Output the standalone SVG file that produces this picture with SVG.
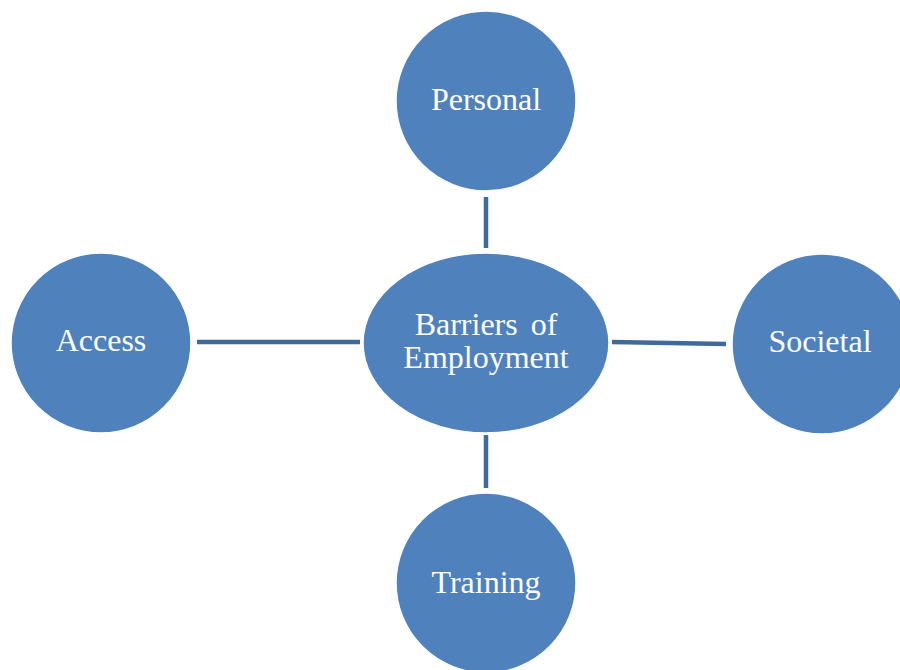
<svg xmlns="http://www.w3.org/2000/svg" width="900" height="670" viewBox="0 0 900 670">
<style>
.node{fill:#4f81bd;stroke:#ffffff;stroke-width:1.5}
.lbl{font-family:"Liberation Serif","Times New Roman",serif;font-size:32px;fill:#ffffff;text-anchor:middle}
.conn{stroke:#3f6a9b;stroke-width:4.5;fill:none}
</style>
<rect width="900" height="670" fill="#ffffff"/>
<g id="connectors">
<line class="conn" x1="486" y1="197" x2="486" y2="248"/>
<line class="conn" x1="486" y1="435" x2="486" y2="488"/>
<line class="conn" x1="197" y1="342" x2="360" y2="342"/>
<line class="conn" x1="612" y1="342" x2="726" y2="344"/>
</g>
<g id="center">
<ellipse class="node" cx="486" cy="343" rx="123" ry="90"/>
<text class="lbl" x="486" y="335" word-spacing="5">Barriers of</text>
<text class="lbl" x="486" y="368">Employment</text>
</g>
<g id="personal">
<circle class="node" cx="486" cy="101" r="90"/>
<text class="lbl" x="486" y="110">Personal</text>
</g>
<g id="access">
<circle class="node" cx="101" cy="343" r="90"/>
<text class="lbl" x="101" y="351">Access</text>
</g>
<g id="societal">
<circle class="node" cx="822" cy="344" r="90"/>
<text class="lbl" x="820" y="352">Societal</text>
</g>
<g id="training">
<circle class="node" cx="486" cy="583" r="90"/>
<text class="lbl" x="486" y="593">Training</text>
</g>
</svg>
